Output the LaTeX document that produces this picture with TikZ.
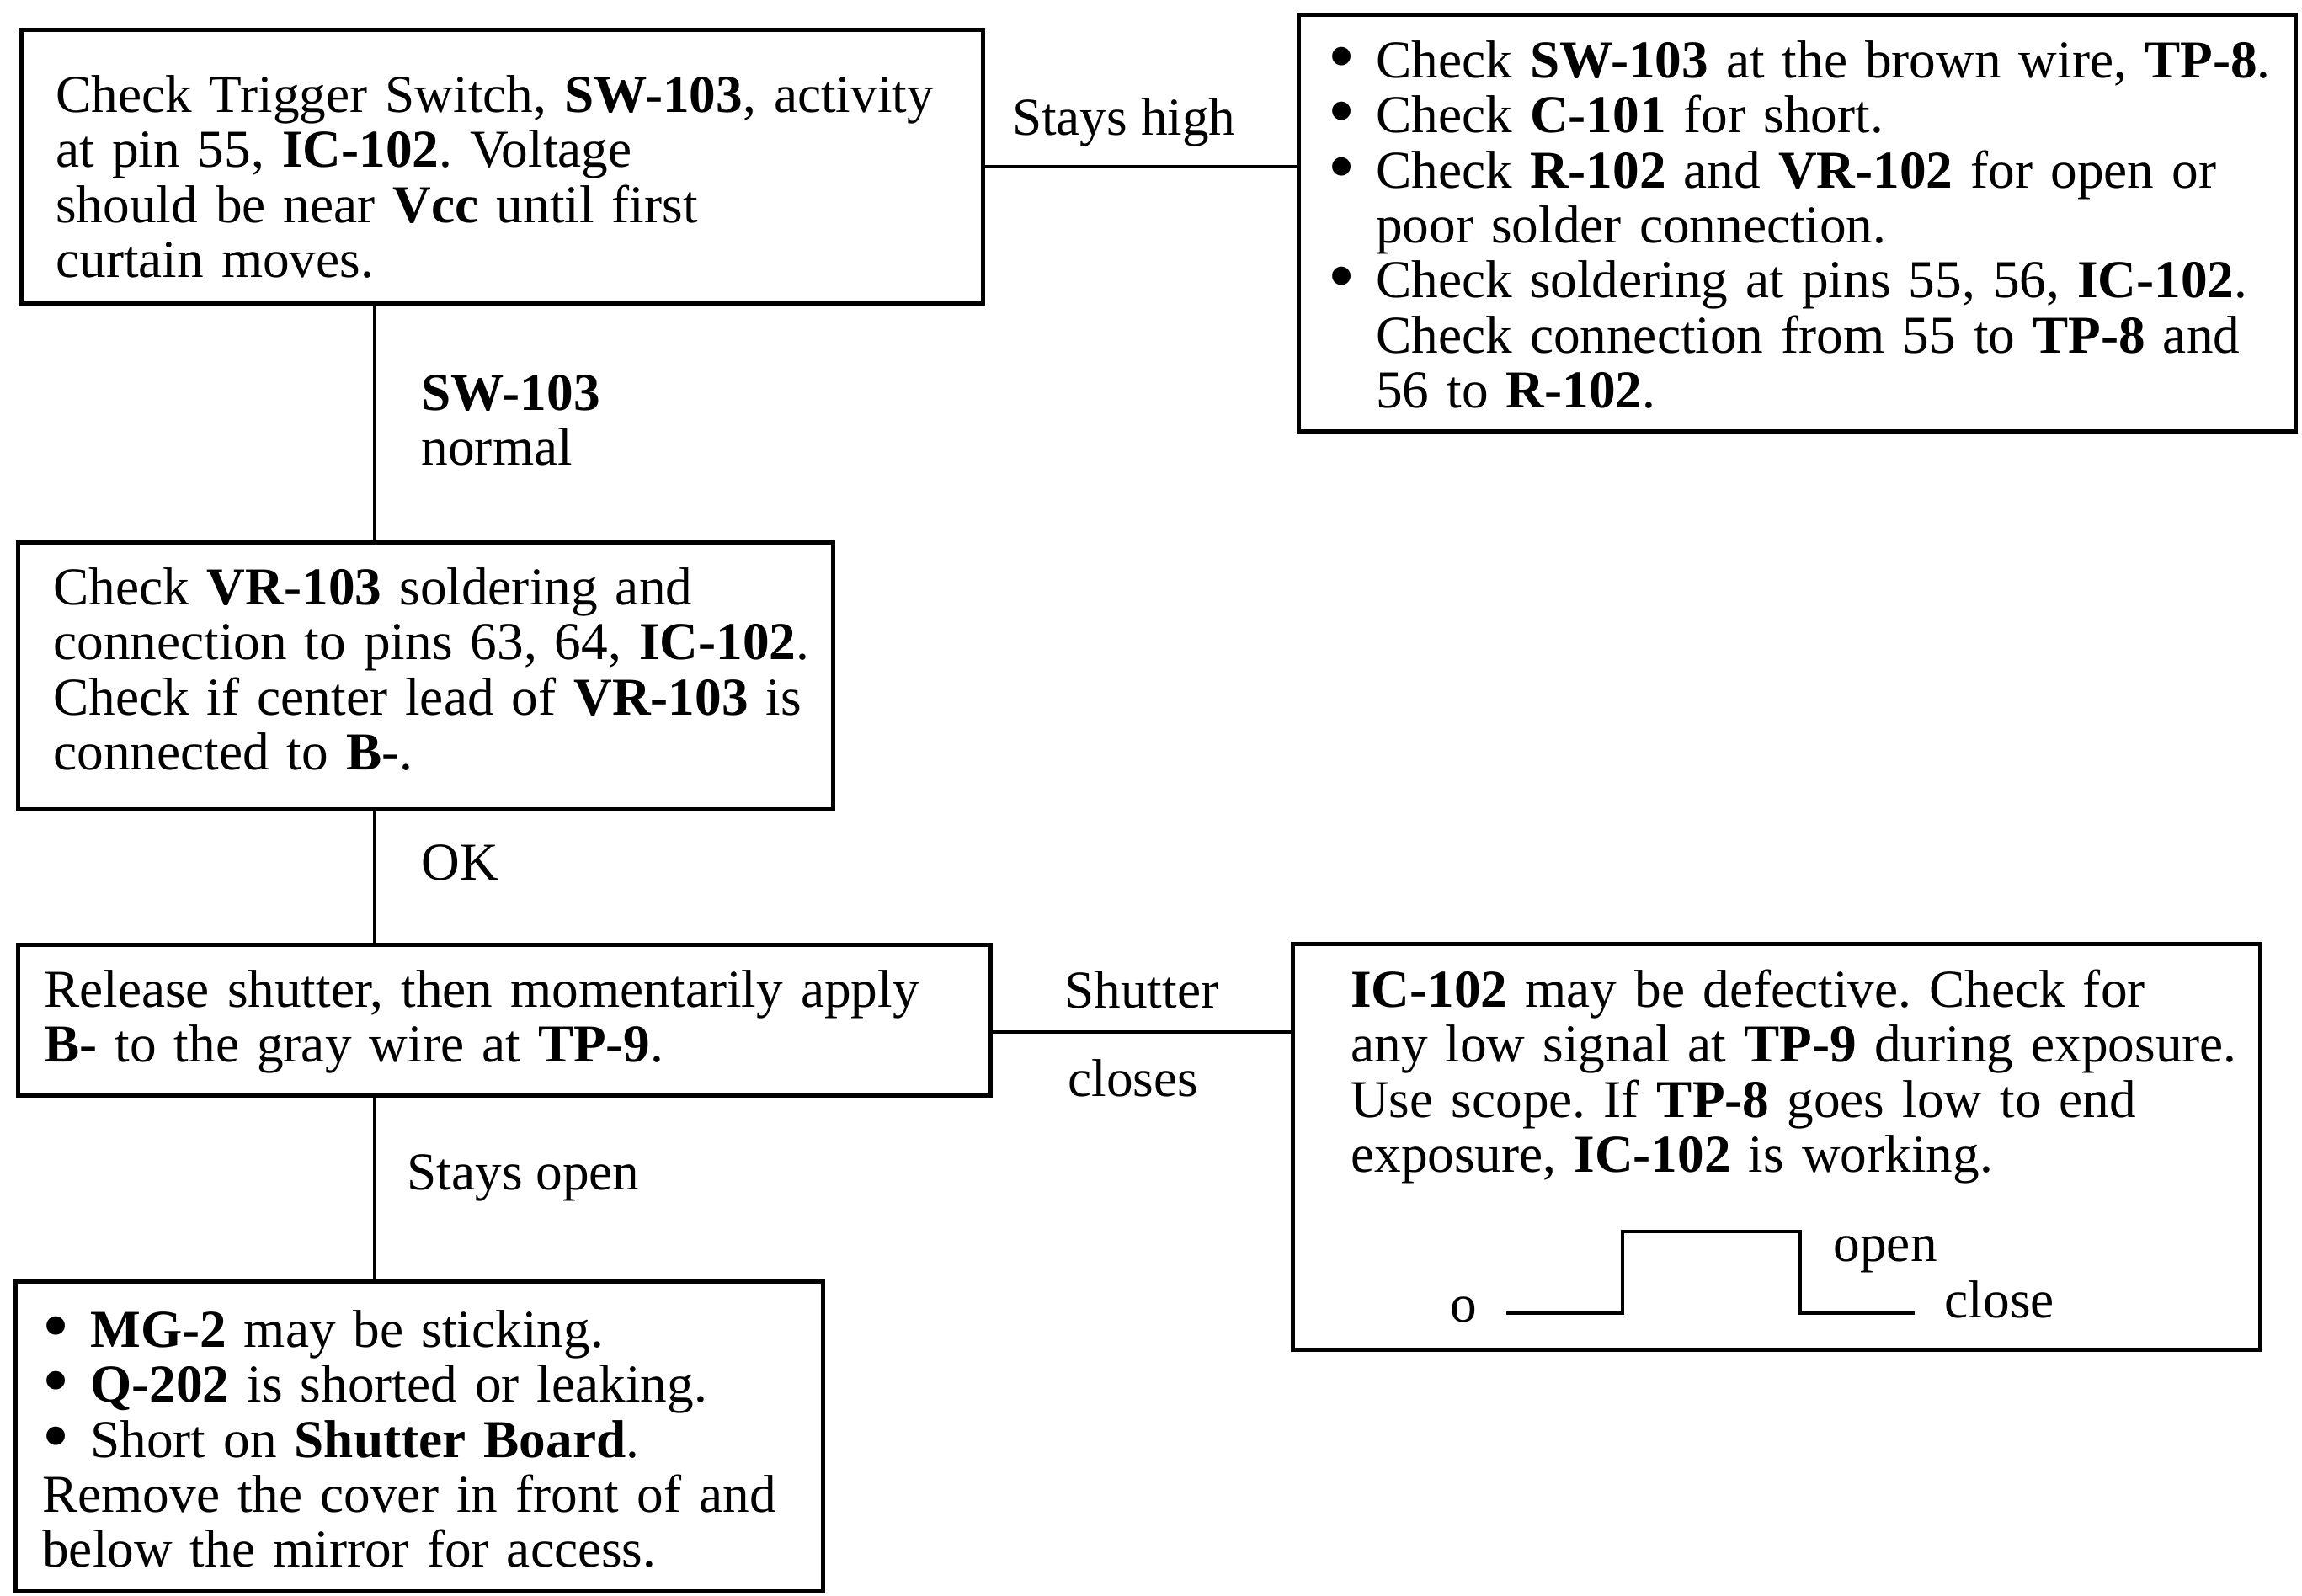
\documentclass[tikz,border=0pt]{standalone}
\usepackage{fontspec}
\usepackage{graphicx}
\setmainfont{Liberation Serif}
\usetikzlibrary{positioning}
\frenchspacing
\newcommand{\bul}{\makebox[0.57cm][l]{\raisebox{-0.08em}{\scalebox{1.45}{\textbullet}}}}
\newcommand{\ind}{\hspace*{0.57cm}}
% lines are broken by hand only
\newcommand{\nobrk}{\rightskip=0pt plus 1fil minus 6cm\relax\hyphenpenalty=10000\relax}

\begin{document}
\begin{tikzpicture}[
  font=\fontsize{18}{18.6}\selectfont,
  box/.style={draw, line width=1.3pt, anchor=north west, align=left, inner ysep=0pt},
  lbl/.style={inner sep=0pt, align=left},
  link/.style={line width=1pt}
]
\useasboundingbox (0,0) rectangle (27.34,-18.95);
%\draw[help lines, color=gray!30, dashed] (0,-18.95) grid (27.34,0);
\node[box, inner xsep=0.41cm, text width=10.60cm, text height=0.98cm, text depth=2.27cm] (trig) at (0.23,-0.33)
  {\nobrk Check Trigger Switch, \textbf{SW-103}, activity\\
   at pin 55, \textbf{IC-102}. Voltage\\
   should be near \textbf{Vcc} until first\\
   curtain moves.};
\node[box, inner xsep=0.35cm, text width=11.14cm, text height=0.75cm, text depth=4.20cm] (swchk) at (15.40,-0.15)
  {\nobrk\bul Check \textbf{SW-103} at the brown wire, \textbf{TP-8}.\\
   \bul Check \textbf{C-101} for short.\\
   \bul Check \textbf{R-102} and \textbf{VR-102} for open or\\
   \ind poor solder connection.\\
   \bul Check soldering at pins 55, 56, \textbf{IC-102}.\\
   \ind Check connection from 55 to \textbf{TP-8} and\\
   \ind 56 to \textbf{R-102}.};
\node[box, inner xsep=0.42cm, text width=8.84cm, text height=0.74cm, text depth=2.43cm] (vrchk) at (0.19,-6.42)
  {\nobrk Check \textbf{VR-103} soldering and\\
   connection to pins 63, 64, \textbf{IC-102}.\\
   Check if center lead of \textbf{VR-103} is\\
   connected to \textbf{B-}.};
\node[box, inner xsep=0.31cm, text width=10.93cm, text height=0.74cm, text depth=1.05cm] (relse) at (0.19,-11.20)
  {\nobrk Release shutter, then momentarily apply\\
   \textbf{B-} to the gray wire at \textbf{TP-9}.};
\node[box, inner xsep=0.69cm, text width=10.11cm, text height=0.75cm, text depth=4.07cm] (icdef) at (15.33,-11.19)
  {\nobrk\textbf{IC-102} may be defective. Check for\\
   any low signal at \textbf{TP-9} during exposure.\\
   Use scope. If \textbf{TP-8} goes low to end\\
   exposure, \textbf{IC-102} is working.};
\node[box, inner xsep=0.32cm, text width=8.95cm, text height=0.78cm, text depth=2.90cm] (mgchk) at (0.16,-15.20)
  {\nobrk\bul \textbf{MG-2} may be sticking.\\
   \bul \textbf{Q-202} is shorted or leaking.\\
   \bul Short on \textbf{Shutter Board}.\\
   Remove the cover in front of and\\
   below the mirror for access.};

% connectors
\coordinate (spine) at (4.45,0);
\coordinate (shut) at (0,-12.26);
\draw[link] (trig.east) -- (trig.east -| swchk.west) node[midway, above=0.22cm, xshift=-0.2cm, inner sep=0pt]{Stays high};
\draw[link] (spine |- trig.south) -- (spine |- vrchk.north);
\draw[link] (spine |- vrchk.south) -- (spine |- relse.north);
\draw[link] (spine |- relse.south) -- (spine |- mgchk.north);
\draw[link] (relse.east |- shut) -- (icdef.west |- shut)
  node[midway, above=0.26cm, inner sep=0pt]{Shutter}
  node[midway, below=0.31cm, xshift=-0.1cm, inner sep=0pt]{closes};
\node[lbl, anchor=west] (swnorm) at (5.00,-4.99) {\textbf{SW-103}\\normal};
\node[lbl, anchor=west] (ok) at (5.00,-10.25) {OK};
\node[lbl, anchor=west] (stopen) at (4.83,-13.99) {Stays open};

% shutter waveform
\draw[line width=1.3pt] (17.89,-15.60) -- (19.27,-15.60) -- (19.27,-14.63) -- (21.38,-14.63) -- (21.38,-15.60) -- (22.74,-15.60);
\node[lbl] (zero) at (17.38,-15.56) {o};
\node[lbl, anchor=west] (opn) at (21.77,-14.90) {open};
\node[lbl, anchor=west] (cls) at (23.09,-15.44) {close};
\end{tikzpicture}
\end{document}
